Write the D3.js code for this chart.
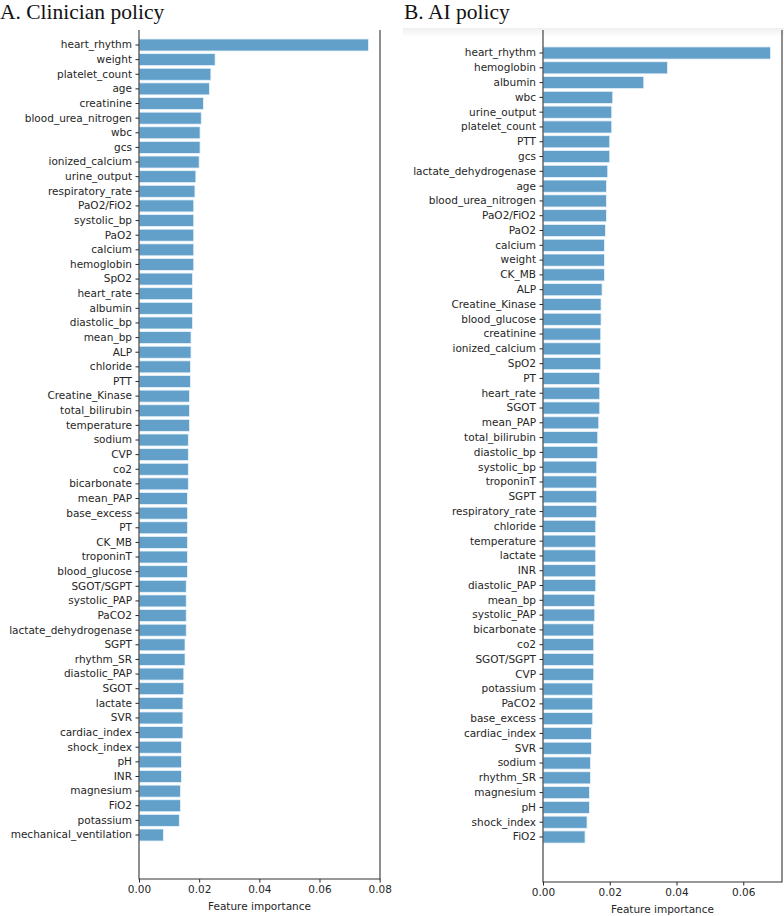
<!DOCTYPE html>
<html>
<head>
<meta charset="utf-8">
<script src="https://cdn.jsdelivr.net/npm/d3@7"></script>
<style>
  body { margin: 0; background: #fff; }
  svg { display: block; }
  .tick text { font-family: "DejaVu Sans", sans-serif; font-size: 10.5px; fill: #262626; }
  .tick line { stroke: #262626; }
  .domain { display: none; }
</style>
</head>
<body>
<div id="chart-area"></div>
<script>
// DATA
// =====

var clinicianFeatures = ['heart_rhythm', 'weight', 'platelet_count', 'age', 'creatinine',
    'blood_urea_nitrogen', 'wbc', 'gcs', 'ionized_calcium', 'urine_output', 'respiratory_rate',
    'PaO2/FiO2', 'systolic_bp', 'PaO2', 'calcium', 'hemoglobin', 'SpO2', 'heart_rate', 'albumin',
    'diastolic_bp', 'mean_bp', 'ALP', 'chloride', 'PTT', 'Creatine_Kinase', 'total_bilirubin',
    'temperature', 'sodium', 'CVP', 'co2', 'bicarbonate', 'mean_PAP', 'base_excess', 'PT', 'CK_MB',
    'troponinT', 'blood_glucose', 'SGOT/SGPT', 'systolic_PAP', 'PaCO2', 'lactate_dehydrogenase',
    'SGPT', 'rhythm_SR', 'diastolic_PAP', 'SGOT', 'lactate', 'SVR', 'cardiac_index', 'shock_index',
    'pH', 'INR', 'magnesium', 'FiO2', 'potassium', 'mechanical_ventilation'];

var clinicianImportance = [0.0763, 0.0253, 0.0239, 0.0234, 0.0214,
    0.0207, 0.0203, 0.0203, 0.0200, 0.0189, 0.0186,
    0.0182, 0.0182, 0.0182, 0.0182, 0.0182, 0.0178, 0.0178, 0.0178,
    0.0178, 0.0173, 0.0173, 0.0171, 0.0171, 0.0168, 0.0168,
    0.0168, 0.0164, 0.0164, 0.0164, 0.0164, 0.0161, 0.0161, 0.0161, 0.0161,
    0.0161, 0.0161, 0.0157, 0.0157, 0.0157, 0.0157,
    0.0153, 0.0153, 0.0149, 0.0149, 0.0146, 0.0146, 0.0146, 0.0141,
    0.0141, 0.0141, 0.0138, 0.0138, 0.0134, 0.0081];

var aiFeatures = ['heart_rhythm', 'hemoglobin', 'albumin', 'wbc', 'urine_output', 'platelet_count',
    'PTT', 'gcs', 'lactate_dehydrogenase', 'age', 'blood_urea_nitrogen', 'PaO2/FiO2', 'PaO2',
    'calcium', 'weight', 'CK_MB', 'ALP', 'Creatine_Kinase', 'blood_glucose', 'creatinine',
    'ionized_calcium', 'SpO2', 'PT', 'heart_rate', 'SGOT', 'mean_PAP', 'total_bilirubin',
    'diastolic_bp', 'systolic_bp', 'troponinT', 'SGPT', 'respiratory_rate', 'chloride',
    'temperature', 'lactate', 'INR', 'diastolic_PAP', 'mean_bp', 'systolic_PAP', 'bicarbonate',
    'co2', 'SGOT/SGPT', 'CVP', 'potassium', 'PaCO2', 'base_excess', 'cardiac_index', 'SVR',
    'sodium', 'rhythm_SR', 'magnesium', 'pH', 'shock_index', 'FiO2'];

var aiImportance = [0.0682, 0.0373, 0.0302, 0.0209, 0.0206, 0.0206,
    0.0200, 0.0200, 0.0194, 0.0190, 0.0190, 0.0190, 0.0187,
    0.0184, 0.0184, 0.0184, 0.0177, 0.0174, 0.0174, 0.0173,
    0.0173, 0.0173, 0.0170, 0.0170, 0.0170, 0.0167, 0.0164,
    0.0164, 0.0161, 0.0161, 0.0161, 0.0161, 0.0158,
    0.0158, 0.0158, 0.0158, 0.0158, 0.0155, 0.0155, 0.0152,
    0.0152, 0.0152, 0.0152, 0.0149, 0.0149, 0.0149, 0.0145, 0.0145,
    0.0142, 0.0142, 0.0139, 0.0139, 0.0132, 0.0126];

var clinicianTicks = [0, 0.02, 0.04, 0.06, 0.08];
var aiTicks = [0, 0.02, 0.04, 0.06];


// CANVAS
// =======

var svg = d3.select('#chart-area')
    .append('svg')
        .attr('width', 784)
        .attr('height', 916);

// faint grey band at the top of panel B (scan artefact)
var grad = svg.append('defs').append('linearGradient')
    .attr('id', 'band')
    .attr('x1', 0).attr('x2', 0).attr('y1', 0).attr('y2', 1);
grad.append('stop').attr('offset', '0%').attr('stop-color', '#efefef');
grad.append('stop').attr('offset', '100%').attr('stop-color', '#ffffff');
svg.append('rect')
    .attr('x', 403).attr('y', 28)
    .attr('width', 381).attr('height', 9)
    .attr('fill', 'url(#band)');


// PANEL
// ======

function drawPanel(opts) {
    var g, x, y, step, n;

    n = opts.features.length;
    step = (opts.lastCenter - opts.firstCenter) / (n - 1);

    x = d3.scaleLinear()
        .domain([0, d3.max(opts.values) * 1.05])
        .range([opts.left, opts.right]);

    y = d3.scaleBand()
        .domain(opts.features)
        .range([opts.firstCenter - step / 2, opts.lastCenter + step / 2])
        .paddingInner(0.18)
        .paddingOuter(0.09);

    g = svg.append('g');

    // title
    g.append('text')
        .attr('x', opts.titleX)
        .attr('y', 19)
        .attr('font-family', '"Liberation Serif", serif')
        .attr('font-size', '21.5px')
        .attr('fill', '#111')
        .text(opts.title);

    // bars
    g.selectAll('rect.bar')
        .data(opts.features)
        .enter()
        .append('rect')
        .attr('class', 'bar')
        .attr('x', x(0))
        .attr('y', d => y(d))
        .attr('width', (d, i) => x(opts.values[i]) - x(0))
        .attr('height', y.bandwidth())
        .attr('fill', '#62a0ca')
        .attr('stroke', '#eaf3fa')
        .attr('stroke-width', 0.8);

    // axes
    g.append('g')
        .attr('transform', 'translate(' + opts.left + ',0)')
        .call(d3.axisLeft(y).tickSize(3.5).tickPadding(3.5));

    g.append('g')
        .attr('transform', 'translate(0,' + opts.bottom + ')')
        .call(d3.axisBottom(x)
            .tickValues(opts.ticks)
            .tickFormat(d3.format('.2f'))
            .tickSize(3.5)
            .tickPadding(3.5));

    // spines: left, right, bottom
    g.append('path')
        .attr('d', 'M' + opts.left + ',' + opts.top + 'V' + opts.bottom +
            'H' + opts.right + 'V' + opts.top)
        .attr('fill', 'none')
        .attr('stroke', '#333')
        .attr('stroke-width', 1.1);

    // x label
    g.append('text')
        .attr('x', (opts.left + opts.right) / 2)
        .attr('y', opts.bottom + 31)
        .attr('text-anchor', 'middle')
        .attr('font-family', '"DejaVu Sans", sans-serif')
        .attr('font-size', '10.5px')
        .attr('fill', '#262626')
        .text('Feature importance');
}

drawPanel({
    title: 'A. Clinician policy',
    titleX: 0,
    features: clinicianFeatures,
    values: clinicianImportance,
    ticks: clinicianTicks,
    left: 139, right: 380, top: 30, bottom: 879,
    firstCenter: 45, lastCenter: 835
});

drawPanel({
    title: 'B. AI policy',
    titleX: 404,
    features: aiFeatures,
    values: aiImportance,
    ticks: aiTicks,
    left: 543, right: 782, top: 30, bottom: 882,
    firstCenter: 53, lastCenter: 837
});
</script>
</body>
</html>
